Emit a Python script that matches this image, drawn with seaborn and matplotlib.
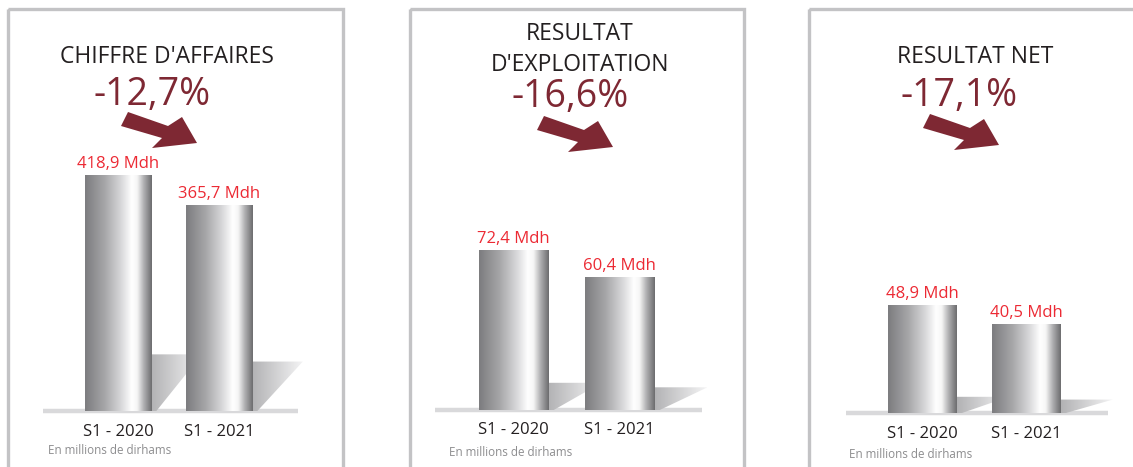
import numpy as np
import matplotlib
matplotlib.use("Agg")
import matplotlib.pyplot as plt
import seaborn as sns
from matplotlib.colors import LinearSegmentedColormap
from matplotlib.patches import Polygon, Rectangle

# Data
titles = ["CHIFFRE D'AFFAIRES", "RESULTAT\nD'EXPLOITATION", "RESULTAT NET"]
changes = ["-12,7%", "-16,6%", "-17,1%"]
periods = ["S1 - 2020", "S1 - 2021"]
chiffre_affaires = [418.9, 365.7]
resultat_exploitation = [72.4, 60.4]
resultat_net = [48.9, 40.5]
series = [chiffre_affaires, resultat_exploitation, resultat_net]
footnote = "En millions de dirhams"

# Layout (pixels of a 1133x467 canvas)
W, H = 1133, 467
box_left = [8, 410, 809]
box_right = [343, 744, 1160]
title_x = [167, 580, 975]
title_base = [[63], [40, 71], [63]]
pct_pos = [(152, 105), (570, 107), (959, 106)]
arrow_off = [(0, 0), (416, 4), (802, 2)]
bar_c1 = [118, 513.5, 922.5]
bar_sp = [101, 106, 104]
base_y = [411, 410, 413]
bar1_px = [236, 160, 108]
shadow_frac = [0.24, 0.17, 0.15]
foot_x = [48, 449, 849]
foot_y = [454, 456, 458]
top_px = 40

title_col = "#231f20"
wine = "#7e2833"
red = "#ec2a34"

sns.set_theme(style="white")
plt.rcParams["font.family"] = ["Open Sans", "DejaVu Sans"]

metal = LinearSegmentedColormap.from_list(
    "metal", [(0.0, "#7c7c7f"), (0.3, "#a7a7a9"), (0.55, "#dadadc"),
              (0.7, "#ffffff"), (0.78, "#f6f6f6"), (0.88, "#b0b0b2"),
              (1.0, "#6c6c6e")], N=256)
shade = LinearSegmentedColormap.from_list("shade", ["#b2b2b4", "#f4f4f5"], N=256)
grad = np.linspace(0, 1, 256).reshape(1, -1)

fig = plt.figure(figsize=(W / 100, H / 100), dpi=100)

# background layer in pixel coordinates: boxes, titles, arrows, notes
bg = fig.add_axes([0, 0, 1, 1])
bg.set_xlim(0, W)
bg.set_ylim(H, 0)
bg.axis("off")

arrow_shape = [(128, 112), (168, 126), (182, 117), (197, 143),
               (152, 148), (162, 138), (121, 126)]

for i in range(3):
    bg.add_patch(Rectangle((box_left[i], 9), box_right[i] - box_left[i], 480,
                           fill=False, edgecolor="#c3c3c5", lw=2.4))
    for line, yb in zip(titles[i].split("\n"), title_base[i]):
        bg.text(title_x[i], yb, line, ha="center", va="baseline",
                fontsize=16.5, color=title_col)
    bg.text(pct_pos[i][0], pct_pos[i][1], changes[i], ha="center",
            va="baseline", fontsize=27, color=wine)
    dx, dy = arrow_off[i]
    bg.add_patch(Polygon([(x + dx, y + dy) for x, y in arrow_shape],
                         closed=True, color=wine, lw=0))
    bg.text(foot_x[i], foot_y[i], footnote, ha="left", va="baseline",
            fontsize=8.4, color="#8d8d8f")

# bar panels
for i, vals in enumerate(series):
    sp = bar_sp[i]
    left = bar_c1[i] - sp
    height_px = base_y[i] - top_px
    ax = fig.add_axes([left / W, (H - base_y[i]) / H, 3 * sp / W, height_px / H])
    ax.patch.set_alpha(0)
    sns.barplot(x=periods, y=vals, ax=ax, width=0.66, color="#999999",
                saturation=1)
    ymax = vals[0] * height_px / bar1_px[i]
    ax.set_xlim(-1, 2)
    ax.set_ylim(0, ymax)

    # floor line
    ax.plot([-0.74, 1.78], [0, 0], color="#d9d9db", lw=3.2,
            solid_capstyle="butt", zorder=0.3, clip_on=False)

    for bar, v in zip(ax.patches, vals):
        x0, w, h = bar.get_x(), bar.get_width(), bar.get_height()
        xr = x0 + w
        # shadow wedge
        sh = Polygon([(xr, 0), (xr, h * shadow_frac[i]),
                      (xr + 0.5, h * shadow_frac[i]), (xr + 0.05, 0)],
                     closed=True, facecolor="none", lw=0)
        ax.add_patch(sh)
        im = ax.imshow(grad, cmap=shade, aspect="auto", zorder=0.5,
                       extent=[xr, xr + 0.5, 0, h * shadow_frac[i]])
        im.set_clip_path(sh)
        # metallic bar
        bar.set_facecolor("none")
        bar.set_linewidth(0)
        im = ax.imshow(grad, cmap=metal, aspect="auto", zorder=2,
                       interpolation="bicubic", extent=[x0, xr, 0, h])
        im.set_clip_path(bar)
        label = f"{v:.1f}".replace(".", ",") + " Mdh"
        ax.annotate(label, (x0 + w / 2, h), xytext=(0, 5),
                    textcoords="offset points", ha="center", va="baseline",
                    fontsize=12, color=red, annotation_clip=False)

    ax.set_xlim(-1, 2)
    ax.set_ylim(0, ymax)
    ax.set_yticks([])
    ax.set_xlabel("")
    ax.set_ylabel("")
    ax.tick_params(axis="x", length=0, pad=9, labelsize=12,
                   labelcolor=title_col)
    sns.despine(ax=ax, left=True, bottom=True)

fig.savefig("out.png", dpi=100)
